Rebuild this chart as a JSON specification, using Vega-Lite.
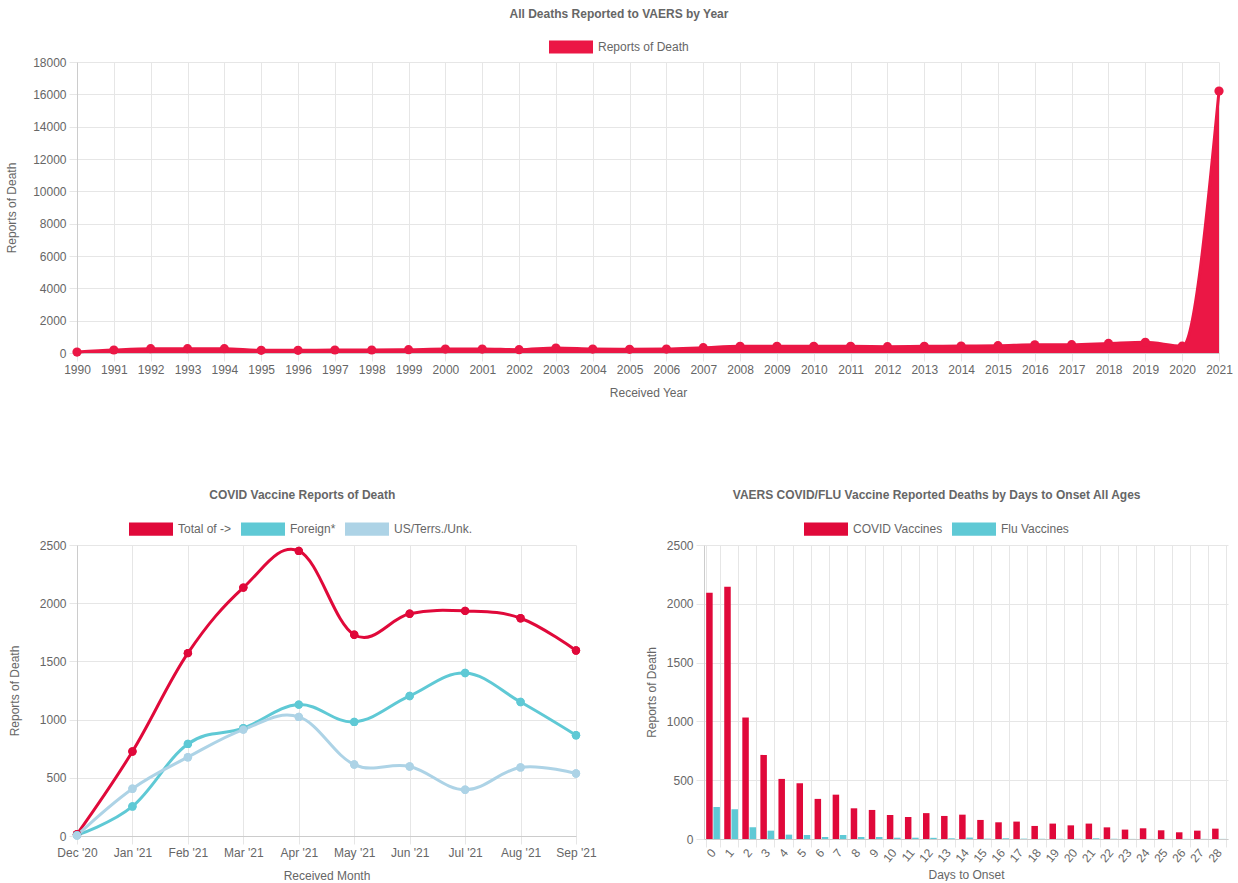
{
  "$schema": "https://vega.github.io/schema/vega-lite/v6.json",
  "padding": {"left": 5, "top": 8, "right": 0, "bottom": 0},
  "background": "white",
  "spacing": 91,
  "resolve": {"scale": {"color": "independent"}, "legend": {"color": "independent"}},
  "config": {
    "font": "Liberation Sans",
    "view": {"stroke": null},
    "axis": {"labelColor": "#666", "labelFontSize": 12, "titleColor": "#666", "titleFontSize": 12, "titleFontWeight": "normal", "gridColor": "#e6e6e6", "domainColor": "#cccccc", "tickColor": "#e6e6e6", "tickSize": 8, "labelPadding": 3, "titlePadding": 8},
    "axisX": {"titlePadding": 12},
    "legend": {"orient": "none", "direction": "horizontal", "labelColor": "#666", "labelFontSize": 12, "symbolType": "M-1,-0.3L1,-0.3L1,0.3L-1,0.3Z", "symbolSize": 1936, "symbolStrokeWidth": 0, "symbolOpacity": 1, "labelOffset": 5, "columnPadding": 9, "padding": 0},
    "title": {"fontSize": 12, "color": "#666", "fontWeight": "bold", "anchor": "middle", "frame": "bounds", "offset": 10}
  },
  "vconcat": [
    {
      "title": {"text": "All Deaths Reported to VAERS by Year", "offset": 4},
      "width": 1142,
      "height": 291,
      "data": {"values": [
        {"year": 1990, "deaths": 60}, {"year": 1991, "deaths": 185}, {"year": 1992, "deaths": 265},
        {"year": 1993, "deaths": 265}, {"year": 1994, "deaths": 265}, {"year": 1995, "deaths": 165},
        {"year": 1996, "deaths": 165}, {"year": 1997, "deaths": 185}, {"year": 1998, "deaths": 185},
        {"year": 1999, "deaths": 205}, {"year": 2000, "deaths": 245}, {"year": 2001, "deaths": 245},
        {"year": 2002, "deaths": 205}, {"year": 2003, "deaths": 310}, {"year": 2004, "deaths": 245},
        {"year": 2005, "deaths": 225}, {"year": 2006, "deaths": 245}, {"year": 2007, "deaths": 330},
        {"year": 2008, "deaths": 410}, {"year": 2009, "deaths": 410}, {"year": 2010, "deaths": 410},
        {"year": 2011, "deaths": 410}, {"year": 2012, "deaths": 390}, {"year": 2013, "deaths": 410},
        {"year": 2014, "deaths": 430}, {"year": 2015, "deaths": 450}, {"year": 2016, "deaths": 510},
        {"year": 2017, "deaths": 515}, {"year": 2018, "deaths": 590}, {"year": 2019, "deaths": 660},
        {"year": 2020, "deaths": 420}, {"year": 2021, "deaths": 16200}
      ]},
      "encoding": {
        "x": {"field": "year", "type": "ordinal", "scale": {"type": "point", "padding": 0}, "axis": {"title": "Received Year", "labelAngle": 0, "grid": true}},
        "y": {"field": "deaths", "type": "quantitative", "scale": {"domain": [0, 18000]}, "axis": {"title": "Reports of Death", "titlePadding": 14, "values": [0, 2000, 4000, 6000, 8000, 10000, 12000, 14000, 16000, 18000], "format": "d"}}
      },
      "layer": [
        {"mark": {"type": "area", "interpolate": "monotone", "opacity": 1, "line": {"strokeWidth": 3, "color": "#EB1745"}},
         "encoding": {"color": {"datum": "Reports of Death", "type": "nominal", "scale": {"domain": ["Reports of Death"], "range": ["#EB1745"]}, "legend": {"title": null, "legendX": 472, "legendY": -37}}}},
        {"mark": {"type": "point", "filled": true, "size": 85, "opacity": 1, "color": "#EB1745"}}
      ]
    },
    {
      "spacing": 48,
      "resolve": {"scale": {"color": "independent"}, "legend": {"color": "independent"}},
      "hconcat": [
        {
          "title": {"text": "COVID Vaccine Reports of Death", "offset": 5},
          "width": 499,
          "height": 291,
          "data": {"values": [
            {"month": "Dec '20", "series": "Total of ->", "value": 15},
            {"month": "Jan '21", "series": "Total of ->", "value": 726},
            {"month": "Feb '21", "series": "Total of ->", "value": 1571},
            {"month": "Mar '21", "series": "Total of ->", "value": 2134},
            {"month": "Apr '21", "series": "Total of ->", "value": 2449},
            {"month": "May '21", "series": "Total of ->", "value": 1729},
            {"month": "Jun '21", "series": "Total of ->", "value": 1909},
            {"month": "Jul '21", "series": "Total of ->", "value": 1934},
            {"month": "Aug '21", "series": "Total of ->", "value": 1871},
            {"month": "Sep '21", "series": "Total of ->", "value": 1594},
            {"month": "Dec '20", "series": "Foreign*", "value": 8},
            {"month": "Jan '21", "series": "Foreign*", "value": 254},
            {"month": "Feb '21", "series": "Foreign*", "value": 791},
            {"month": "Mar '21", "series": "Foreign*", "value": 926},
            {"month": "Apr '21", "series": "Foreign*", "value": 1129},
            {"month": "May '21", "series": "Foreign*", "value": 980},
            {"month": "Jun '21", "series": "Foreign*", "value": 1203},
            {"month": "Jul '21", "series": "Foreign*", "value": 1400},
            {"month": "Aug '21", "series": "Foreign*", "value": 1151},
            {"month": "Sep '21", "series": "Foreign*", "value": 866},
            {"month": "Dec '20", "series": "US/Terrs./Unk.", "value": 5},
            {"month": "Jan '21", "series": "US/Terrs./Unk.", "value": 406},
            {"month": "Feb '21", "series": "US/Terrs./Unk.", "value": 677},
            {"month": "Mar '21", "series": "US/Terrs./Unk.", "value": 914},
            {"month": "Apr '21", "series": "US/Terrs./Unk.", "value": 1023},
            {"month": "May '21", "series": "US/Terrs./Unk.", "value": 614},
            {"month": "Jun '21", "series": "US/Terrs./Unk.", "value": 597},
            {"month": "Jul '21", "series": "US/Terrs./Unk.", "value": 397},
            {"month": "Aug '21", "series": "US/Terrs./Unk.", "value": 589},
            {"month": "Sep '21", "series": "US/Terrs./Unk.", "value": 537}
          ]},
          "encoding": {
            "x": {"field": "month", "type": "ordinal", "sort": null, "scale": {"type": "point", "padding": 0}, "axis": {"title": "Received Month", "labelAngle": 0, "grid": true}},
            "y": {"field": "value", "type": "quantitative", "scale": {"domain": [0, 2500]}, "axis": {"title": "Reports of Death", "titlePadding": 18, "values": [0, 500, 1000, 1500, 2000, 2500], "format": "d"}},
            "color": {"field": "series", "type": "nominal", "sort": null, "scale": {"domain": ["Total of ->", "Foreign*", "US/Terrs./Unk."], "range": ["#E0093A", "#5FC9D5", "#ADD3E6"]}, "legend": {"title": null, "legendX": 52, "legendY": -38}}
          },
          "layer": [
            {"mark": {"type": "point", "filled": true, "size": 70, "opacity": 1}},
            {"mark": {"type": "line", "interpolate": "cardinal", "tension": -0.1, "strokeWidth": 3}},
            {"mark": {"type": "point", "filled": true, "size": 70, "opacity": 1}}
          ]
        },
        {
          "title": {"text": "VAERS COVID/FLU Vaccine Reported Deaths by Days to Onset All Ages", "offset": 5},
          "width": 524,
          "height": 294,
          "data": {"values": [
            {"day": 0, "vaccine": "COVID Vaccines", "deaths": 2094}, {"day": 0, "vaccine": "Flu Vaccines", "deaths": 272},
            {"day": 1, "vaccine": "COVID Vaccines", "deaths": 2145}, {"day": 1, "vaccine": "Flu Vaccines", "deaths": 253},
            {"day": 2, "vaccine": "COVID Vaccines", "deaths": 1033}, {"day": 2, "vaccine": "Flu Vaccines", "deaths": 99},
            {"day": 3, "vaccine": "COVID Vaccines", "deaths": 715}, {"day": 3, "vaccine": "Flu Vaccines", "deaths": 71},
            {"day": 4, "vaccine": "COVID Vaccines", "deaths": 511}, {"day": 4, "vaccine": "Flu Vaccines", "deaths": 37},
            {"day": 5, "vaccine": "COVID Vaccines", "deaths": 474}, {"day": 5, "vaccine": "Flu Vaccines", "deaths": 34},
            {"day": 6, "vaccine": "COVID Vaccines", "deaths": 341}, {"day": 6, "vaccine": "Flu Vaccines", "deaths": 17},
            {"day": 7, "vaccine": "COVID Vaccines", "deaths": 377}, {"day": 7, "vaccine": "Flu Vaccines", "deaths": 34},
            {"day": 8, "vaccine": "COVID Vaccines", "deaths": 261}, {"day": 8, "vaccine": "Flu Vaccines", "deaths": 17},
            {"day": 9, "vaccine": "COVID Vaccines", "deaths": 247}, {"day": 9, "vaccine": "Flu Vaccines", "deaths": 17},
            {"day": 10, "vaccine": "COVID Vaccines", "deaths": 204}, {"day": 10, "vaccine": "Flu Vaccines", "deaths": 11},
            {"day": 11, "vaccine": "COVID Vaccines", "deaths": 187}, {"day": 11, "vaccine": "Flu Vaccines", "deaths": 11},
            {"day": 12, "vaccine": "COVID Vaccines", "deaths": 220}, {"day": 12, "vaccine": "Flu Vaccines", "deaths": 10},
            {"day": 13, "vaccine": "COVID Vaccines", "deaths": 196}, {"day": 13, "vaccine": "Flu Vaccines", "deaths": 6},
            {"day": 14, "vaccine": "COVID Vaccines", "deaths": 207}, {"day": 14, "vaccine": "Flu Vaccines", "deaths": 12},
            {"day": 15, "vaccine": "COVID Vaccines", "deaths": 162}, {"day": 15, "vaccine": "Flu Vaccines", "deaths": 3},
            {"day": 16, "vaccine": "COVID Vaccines", "deaths": 142}, {"day": 16, "vaccine": "Flu Vaccines", "deaths": 6},
            {"day": 17, "vaccine": "COVID Vaccines", "deaths": 148}, {"day": 17, "vaccine": "Flu Vaccines", "deaths": 3},
            {"day": 18, "vaccine": "COVID Vaccines", "deaths": 111}, {"day": 18, "vaccine": "Flu Vaccines", "deaths": 2},
            {"day": 19, "vaccine": "COVID Vaccines", "deaths": 131}, {"day": 19, "vaccine": "Flu Vaccines", "deaths": 2},
            {"day": 20, "vaccine": "COVID Vaccines", "deaths": 116}, {"day": 20, "vaccine": "Flu Vaccines", "deaths": 2},
            {"day": 21, "vaccine": "COVID Vaccines", "deaths": 131}, {"day": 21, "vaccine": "Flu Vaccines", "deaths": 6},
            {"day": 22, "vaccine": "COVID Vaccines", "deaths": 99}, {"day": 22, "vaccine": "Flu Vaccines", "deaths": 2},
            {"day": 23, "vaccine": "COVID Vaccines", "deaths": 80}, {"day": 23, "vaccine": "Flu Vaccines", "deaths": 1},
            {"day": 24, "vaccine": "COVID Vaccines", "deaths": 91}, {"day": 24, "vaccine": "Flu Vaccines", "deaths": 1},
            {"day": 25, "vaccine": "COVID Vaccines", "deaths": 74}, {"day": 25, "vaccine": "Flu Vaccines", "deaths": 1},
            {"day": 26, "vaccine": "COVID Vaccines", "deaths": 57}, {"day": 26, "vaccine": "Flu Vaccines", "deaths": 1},
            {"day": 27, "vaccine": "COVID Vaccines", "deaths": 71}, {"day": 27, "vaccine": "Flu Vaccines", "deaths": 1},
            {"day": 28, "vaccine": "COVID Vaccines", "deaths": 88}, {"day": 28, "vaccine": "Flu Vaccines", "deaths": 1}
          ]},
          "mark": {"type": "bar"},
          "encoding": {
            "x": {"field": "day", "type": "ordinal", "scale": {"paddingInner": 0.2, "paddingOuter": 0.1}, "axis": {"title": "Days to Onset", "titlePadding": 5, "labelAngle": -50, "grid": true, "tickBand": "extent"}},
            "xOffset": {"field": "vaccine", "type": "nominal", "scale": {"paddingInner": 0.1, "paddingOuter": 0.05}},
            "y": {"field": "deaths", "type": "quantitative", "scale": {"domain": [0, 2500]}, "axis": {"title": "Reports of Death", "values": [0, 500, 1000, 1500, 2000, 2500], "format": "d"}},
            "color": {"field": "vaccine", "type": "nominal", "scale": {"domain": ["COVID Vaccines", "Flu Vaccines"], "range": ["#E0093A", "#5FC9D5"]}, "legend": {"title": null, "legendX": 100, "legendY": -38}}
          }
        }
      ]
    }
  ]
}
